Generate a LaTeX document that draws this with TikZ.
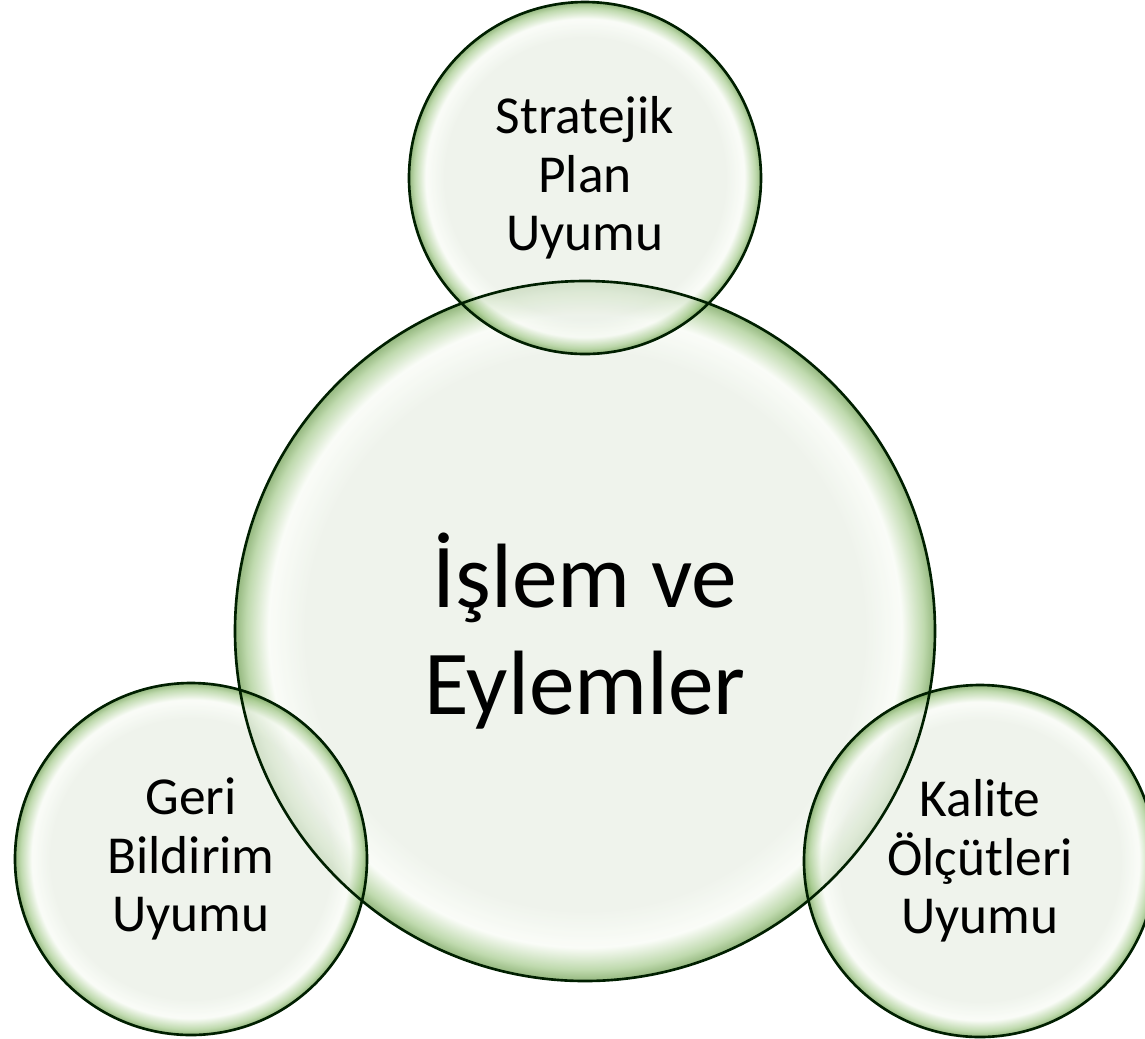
\documentclass[tikz,border=0pt]{standalone}
\usepackage{fontspec}
\setmainfont{Carlito}
\usetikzlibrary{positioning}
\definecolor{bubin}{HTML}{E9EFE5}
\definecolor{bubglow}{HTML}{F8FBF5}
\definecolor{bubmid}{HTML}{A6CB8E}
\definecolor{bubrim}{HTML}{6A9B4C}
\pgfdeclareradialshading{bubshade}{\pgfpoint{0bp}{0bp}}{color(0bp)=(bubin); color(20bp)=(bubin); color(22.6bp)=(bubglow); color(24.2bp)=(bubmid); color(25bp)=(bubrim); color(50bp)=(bubrim)}
\tikzstyle{bubble} = [circle, inner sep=0pt, shading=bubshade, fill opacity=0.72, text opacity=1, align=center]
\tikzstyle{small} = [bubble, minimum size=3.52cm, font=\fontsize{15.2}{16.6}\selectfont]
\tikzstyle{rim} = [line width=0.75pt, draw=black!88!green]

\begin{document}
\begin{tikzpicture}
            \useasboundingbox (0,0) rectangle (11.45,-10.38);
            \node(islem) [bubble, minimum size=7cm, font=\fontsize{26}{30.4}\selectfont] at (5.85,-6.31) {İşlem ve\\Eylemler};
            \node(plan) [small, above of=islem, node distance=4.53cm] {Stratejik\\Plan\\Uyumu};
            \node(geri) [small] at (1.91,-8.59) {Geri\\Bildirim\\Uyumu};
            \node(kalite) [small] at (9.80,-8.61) {Kalite\\Ölçütleri\\Uyumu};
            \draw[rim] (islem.center) circle (3.5);
            \draw[rim] (plan.center) circle (1.76);
            \draw[rim] (geri.center) circle (1.76);
            \draw[rim] (kalite.center) circle (1.76);
        \end{tikzpicture}
\end{document}
